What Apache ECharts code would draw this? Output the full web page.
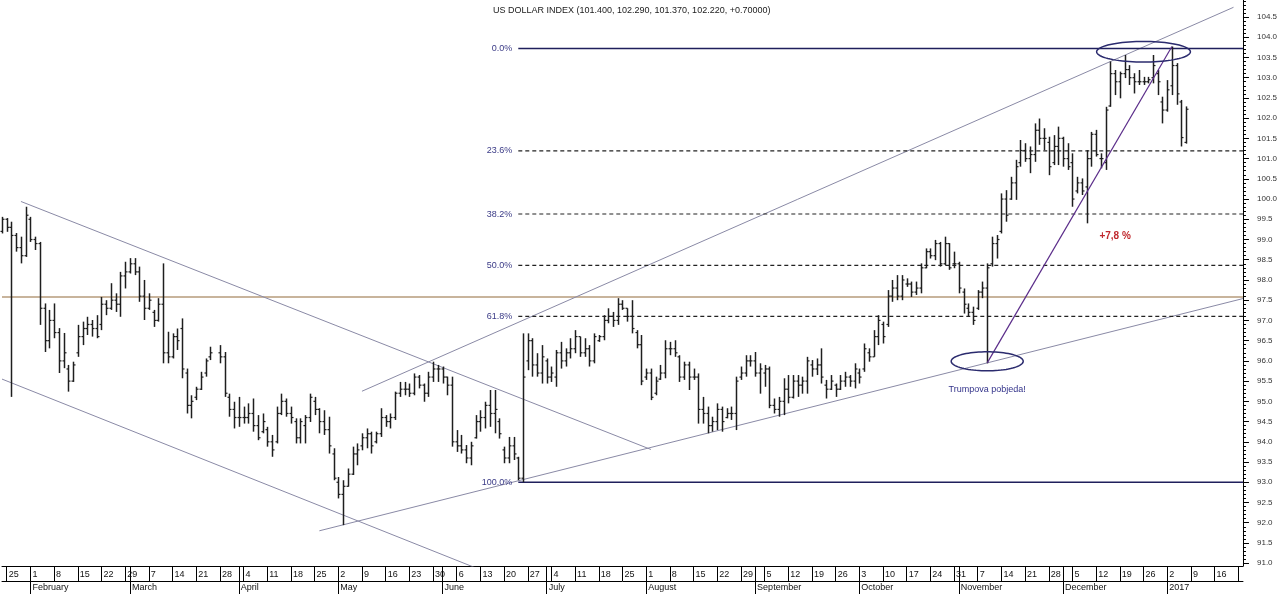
<!DOCTYPE html>
<html>
<head>
<meta charset="utf-8">
<title>US Dollar Index</title>
<script src="https://cdn.jsdelivr.net/npm/echarts@6/dist/echarts.min.js"></script>
<style>
	html, body { margin: 0; padding: 0; background: #fff; }
	#chart { width: 1280px; height: 594px; }
</style>
</head>
<body>
<div id="chart"></div>
<script>
/**
 * Dnevni barovi, jedan red po radnom danu: [open, high, low, close]
 * null = nema trgovanja (Veliki petak)
 */
var jan2016 = [ // od 22.1.
	[99.20, 99.56, 99.15, 99.50], [99.50, 99.53, 99.19, 99.30], [99.30, 99.44, 95.11, 99.10],
	[99.10, 99.16, 98.70, 98.80], [98.80, 99.07, 98.41, 98.60], [98.60, 99.81, 98.57, 99.60]
];
var feb2016 = [
	[99.50, 99.56, 98.94, 99.00], [99.00, 99.07, 98.74, 98.90], [98.90, 98.94, 96.89, 97.30],
	[97.30, 97.42, 96.22, 96.50], [96.50, 97.26, 96.31, 97.00], [97.00, 97.42, 96.56, 96.70],
	[96.70, 96.81, 95.70, 96.00], [96.00, 96.69, 95.82, 96.20], [95.80, 95.90, 95.24, 95.50],
	[95.50, 95.98, 95.48, 95.90], [96.20, 96.89, 96.10, 96.60], [96.60, 96.97, 96.39, 96.80],
	[96.80, 97.09, 96.64, 96.90], [96.90, 97.01, 96.60, 96.80], [96.80, 97.13, 96.56, 96.60],
	[96.90, 97.58, 96.76, 97.40], [97.40, 97.50, 97.13, 97.30], [97.30, 97.92, 97.26, 97.50],
	[97.50, 97.67, 97.21, 97.40], [97.40, 98.20, 97.09, 98.10], [98.10, 98.45, 97.79, 98.20]
];
var mar2016 = [
	[98.20, 98.54, 98.16, 98.40], [98.40, 98.54, 98.12, 98.20], [98.20, 98.33, 97.46, 97.60],
	[97.60, 98.00, 97.01, 97.30], [97.30, 97.67, 97.26, 97.50], [97.20, 97.26, 96.84, 97.00],
	[97.00, 97.55, 96.97, 97.40], [97.40, 98.41, 95.94, 96.20], [96.20, 96.72, 95.94, 96.10],
	[96.10, 96.68, 96.06, 96.60], [96.60, 96.80, 96.27, 96.50], [96.80, 97.05, 95.57, 95.80],
	[95.70, 95.81, 94.70, 94.90], [94.90, 95.15, 94.58, 95.00], [95.10, 95.36, 95.03, 95.30],
	[95.30, 95.73, 95.28, 95.60], [95.70, 96.06, 95.61, 96.00], [96.10, 96.35, 96.02, 96.20],
	null,
	[96.20, 96.39, 95.94, 96.10], [96.10, 96.22, 95.11, 95.20], [95.10, 95.19, 94.62, 94.80],
	[94.80, 94.99, 94.33, 94.60]
];
var apr2016 = [
	[94.60, 95.11, 94.37, 94.60], [94.60, 94.87, 94.45, 94.60], [94.60, 94.95, 94.45, 94.70],
	[94.70, 95.07, 94.25, 94.40], [94.40, 94.66, 94.04, 94.10], [94.25, 94.70, 94.21, 94.50],
	[94.30, 94.37, 93.88, 94.00], [94.00, 94.17, 93.63, 93.80], [94.00, 94.87, 93.96, 94.70],
	[94.70, 95.19, 94.66, 95.00], [95.00, 95.07, 94.62, 94.70], [94.70, 94.87, 94.45, 94.60],
	[94.50, 94.58, 93.96, 94.10], [94.10, 94.58, 93.96, 94.50], [94.40, 94.66, 93.96, 94.60],
	[94.60, 95.19, 94.49, 95.10], [95.00, 95.11, 94.66, 94.80], [94.80, 94.83, 94.21, 94.50],
	[94.50, 94.78, 94.17, 94.30], [94.30, 94.62, 93.71, 93.90], [93.70, 93.84, 93.05, 93.10]
];
var may2016 = [
	[93.00, 93.13, 92.60, 92.70], [92.70, 93.05, 91.94, 92.90], [92.90, 93.34, 92.89, 93.20],
	[93.20, 93.88, 93.18, 93.70], [93.70, 93.96, 93.42, 93.80], [93.90, 94.21, 93.79, 94.10],
	[94.10, 94.33, 93.84, 94.20], [94.20, 94.25, 93.71, 93.90], [94.00, 94.25, 93.96, 94.20],
	[94.20, 94.83, 94.12, 94.60], [94.60, 94.66, 94.37, 94.50], [94.50, 94.70, 94.33, 94.60],
	[94.60, 95.24, 94.54, 95.20], [95.20, 95.48, 95.11, 95.30], [95.30, 95.48, 95.15, 95.30],
	[95.30, 95.44, 95.11, 95.20], [95.20, 95.69, 95.15, 95.60], [95.60, 95.65, 95.32, 95.40],
	[95.40, 95.44, 94.99, 95.20], [95.20, 95.73, 95.11, 95.60], [95.60, 95.98, 95.48, 95.80],
	[95.80, 95.90, 95.48, 95.80]
];
var jun2016 = [
	[95.80, 95.86, 95.44, 95.60], [95.60, 95.61, 95.15, 95.40], [95.40, 95.61, 93.88, 94.00],
	[94.00, 94.29, 93.75, 93.90], [93.90, 94.17, 93.71, 93.80], [93.80, 93.92, 93.47, 93.60],
	[93.60, 94.00, 93.42, 93.90], [94.10, 94.66, 94.08, 94.50], [94.50, 94.78, 94.25, 94.60],
	[94.60, 94.99, 94.33, 94.90], [94.90, 95.28, 94.37, 94.70], [94.70, 95.28, 94.21, 94.80],
	[94.50, 94.58, 94.08, 94.20], [93.80, 93.88, 93.47, 93.60], [93.60, 94.12, 93.47, 93.90],
	[93.90, 94.12, 93.55, 93.70], [93.60, 93.63, 93.05, 93.10], [93.10, 96.68, 93.00, 95.60],
	[96.00, 96.68, 95.77, 96.50], [96.50, 96.56, 95.61, 95.90], [95.90, 96.19, 95.61, 95.70],
	[95.70, 96.39, 95.44, 96.10]
];
var jul2016 = [
	[96.00, 96.06, 95.44, 95.60], [95.60, 95.86, 95.48, 95.70], [95.60, 96.27, 95.36, 96.20],
	[96.20, 96.47, 95.81, 96.00], [96.00, 96.31, 95.86, 96.20], [96.20, 96.56, 96.06, 96.30],
	[96.30, 96.76, 96.19, 96.60], [96.60, 96.60, 96.10, 96.20], [96.20, 96.56, 96.10, 96.30],
	[96.30, 96.39, 95.86, 96.00], [96.00, 96.68, 95.94, 96.60], [96.50, 96.64, 96.47, 96.60],
	[96.60, 97.13, 96.51, 97.00], [97.00, 97.30, 96.93, 97.10], [97.10, 97.21, 96.84, 97.00],
	[97.00, 97.55, 96.89, 97.40], [97.40, 97.50, 97.26, 97.30], [97.30, 97.30, 96.97, 97.10],
	[97.10, 97.50, 96.68, 96.80], [96.70, 96.76, 96.31, 96.40], [96.40, 96.64, 95.40, 95.50]
];
var aug2016 = [
	[95.60, 95.81, 95.53, 95.70], [95.70, 95.81, 95.03, 95.10], [95.20, 95.61, 95.15, 95.50],
	[95.55, 95.90, 95.53, 95.70], [95.70, 96.51, 95.57, 96.30], [96.30, 96.47, 96.14, 96.30],
	[96.30, 96.51, 96.10, 96.20], [96.10, 96.14, 95.48, 95.60], [95.60, 95.98, 95.53, 95.90],
	[95.90, 95.98, 95.28, 95.60], [95.60, 95.81, 95.53, 95.60], [95.60, 95.69, 94.45, 94.80],
	[94.80, 95.11, 94.45, 94.70], [94.70, 94.87, 94.21, 94.40], [94.40, 94.62, 94.25, 94.50],
	[94.50, 94.95, 94.29, 94.80], [94.80, 94.87, 94.25, 94.50], [94.60, 94.83, 94.58, 94.70],
	[94.70, 94.87, 94.54, 94.70], [94.70, 95.61, 94.29, 95.50], [95.60, 95.86, 95.53, 95.70],
	[95.70, 96.14, 95.61, 96.00], [96.00, 96.14, 95.86, 96.00]
];
var sep2016 = [
	[96.00, 96.22, 95.61, 95.70], [95.70, 95.94, 95.19, 95.80], [95.70, 95.90, 95.36, 95.80],
	[95.80, 95.86, 94.83, 94.90], [94.90, 95.07, 94.70, 94.80], [94.80, 95.11, 94.62, 95.00],
	[95.00, 95.57, 94.66, 95.30], [95.30, 95.65, 94.95, 95.10], [95.10, 95.65, 95.07, 95.50],
	[95.50, 95.65, 95.11, 95.40], [95.40, 95.61, 95.19, 95.50], [95.50, 96.10, 95.19, 96.00],
	[95.90, 96.02, 95.61, 95.80], [95.80, 96.06, 95.65, 95.90], [95.90, 96.31, 95.44, 95.60],
	[95.40, 95.53, 95.07, 95.30], [95.30, 95.65, 95.28, 95.50], [95.40, 95.44, 95.11, 95.30],
	[95.30, 95.65, 95.28, 95.50], [95.50, 95.73, 95.36, 95.60], [95.60, 95.65, 95.36, 95.50],
	[95.50, 95.94, 95.32, 95.80]
];
var oct2016 = [
	[95.70, 95.81, 95.44, 95.60], [95.80, 96.43, 95.73, 96.30], [96.20, 96.31, 95.98, 96.10],
	[96.10, 96.76, 96.10, 96.60], [96.60, 97.13, 96.39, 97.00], [96.90, 96.97, 96.43, 96.60],
	[96.90, 97.75, 96.84, 97.60], [97.60, 98.00, 97.46, 97.80], [97.80, 98.12, 97.50, 97.60],
	[97.60, 98.12, 97.50, 98.00], [97.90, 98.04, 97.83, 97.90], [97.90, 97.96, 97.58, 97.70],
	[97.70, 97.96, 97.63, 97.80], [97.80, 98.41, 97.67, 98.30], [98.30, 98.78, 98.29, 98.70],
	[98.70, 98.78, 98.53, 98.60], [98.60, 98.99, 98.49, 98.90], [98.90, 98.94, 98.33, 98.40],
	[98.40, 99.07, 98.37, 98.90], [98.90, 98.91, 98.25, 98.30], [98.40, 98.70, 98.29, 98.40]
];
var nov2016 = [
	[98.40, 98.45, 97.67, 97.80], [97.70, 97.79, 97.17, 97.40], [97.30, 97.42, 97.09, 97.20],
	[97.20, 97.34, 96.89, 97.00], [97.30, 97.75, 97.26, 97.70], [97.70, 97.96, 97.55, 97.80],
	[97.80, 98.41, 95.94, 98.30], [98.40, 99.07, 98.33, 98.90], [98.90, 99.11, 98.53, 99.00],
	[99.20, 100.14, 99.15, 100.00], [100.00, 100.22, 99.44, 99.60], [100.00, 100.55, 99.98, 100.40],
	[100.40, 100.97, 99.98, 100.80], [100.90, 101.46, 100.80, 101.20], [101.20, 101.38, 100.92, 101.00],
	[101.00, 101.30, 100.64, 101.10], [101.10, 101.87, 100.92, 101.70], [101.70, 101.99, 101.34, 101.50],
	[101.50, 101.75, 101.21, 101.50], [101.40, 101.54, 100.59, 100.80], [100.90, 101.58, 100.84, 101.30],
	[101.30, 101.79, 100.84, 101.50]
];
var dec2016 = [
	[101.50, 101.54, 100.80, 101.00], [101.00, 101.38, 100.72, 100.80], [100.90, 101.13, 99.81, 100.00],
	[100.20, 100.55, 100.14, 100.40], [100.40, 100.51, 100.10, 100.20], [100.30, 101.21, 99.40, 101.00],
	[101.00, 101.66, 100.80, 101.60], [101.60, 101.71, 101.05, 101.10], [101.00, 101.13, 100.76, 101.00],
	[100.90, 102.28, 100.72, 102.20], [102.30, 103.40, 102.28, 103.10], [103.10, 103.19, 102.57, 102.90],
	[102.90, 103.15, 102.49, 103.10], [103.10, 103.56, 102.99, 103.20], [103.20, 103.31, 102.82, 103.00],
	[103.00, 103.11, 102.61, 102.90], [102.90, 103.19, 102.82, 102.90], [102.90, 103.02, 102.82, 102.90],
	[102.90, 103.02, 102.86, 102.95], [103.00, 103.56, 102.86, 103.30], [103.10, 103.19, 102.57, 102.90],
	[102.40, 102.53, 101.87, 102.20]
];
var jan2017 = [ // do 6.1.
	[102.20, 102.94, 102.16, 102.70], [102.80, 103.77, 102.57, 103.30], [103.30, 103.36, 102.33, 102.60],
	[102.40, 102.45, 101.30, 101.52], [101.40, 102.29, 101.37, 102.22]
];

// os
var firstDay = '2016-01-22';
var lastAxisDay = '2017-01-24';
var monthNames = ['January', 'February', 'March', 'April', 'May', 'June', 'July',
	'August', 'September', 'October', 'November', 'December'];
var yLabels = [91.0, 91.5, 92.0, 92.5, 93.0, 93.5, 94.0, 94.5, 95.0, 95.5, 96.0, 96.5, 97.0, 97.5,
	98.0, 98.5, 99.0, 99.5, 100.0, 100.5, 101.0, 101.5, 102.0, 102.5, 103.0, 103.5, 104.0, 104.5];
var yMin = 90.93, yMax = 104.92;

// Fibonacci
var fibNames = ['0.0%', '23.6%', '38.2%', '50.0%', '61.8%', '100.0%'];
var fibValues = [103.72, 101.19, 99.63, 98.36, 97.10, 93.00];
var fibStart = '2016-06-23';

// horizontalna linija
var levelLine = 97.58;

// trend linije [[datum, cijena], [datum, cijena]]
var channelLines = [
	[['2016-01-28', 99.94], ['2016-08-02', 93.81]],
	[['2016-01-22', 95.55], ['2016-06-17', 90.65]],
	[['2016-04-26', 91.80], ['2017-01-24', 97.54]],
	[['2016-05-09', 95.25], ['2017-01-20', 104.74]]
];
var rallyLine = [['2016-11-09', 95.95], ['2017-01-03', 103.77]];

// elipse: [datum, cijena, pola sirine u barovima, pola visine u cijeni]
var ellipses = [
	['2016-11-09', 95.99, 7.6, 0.235],
	['2016-12-26', 103.64, 9.9, 0.255]
];

// tekstovi
var notes = [
	['2016-12-16', 99.08, '+7,8 %', '#c0282d', 'bold'],
	['2016-11-09', 95.28, 'Trumpova pobjeda!', '#33338a', 'normal']
];

var fontFamily = '"Liberation Sans", Arial, sans-serif';

/**
 * kalendar radnih dana
 */
var days = [];
var t = Date.UTC(2016, 0, 22);
var tEnd = Date.UTC(2017, 0, 24);
while (t <= tEnd) {
	var wd = new Date(t).getUTCDay();
	if (wd > 0 && wd < 6) {
		days.push(new Date(t).toISOString().slice(0, 10));
	}
	t += 86400000;
}
function dayIndex(s) {
	return days.indexOf(s);
}

var allRows = [].concat(jan2016, feb2016, mar2016, apr2016, may2016, jun2016, jul2016,
	aug2016, sep2016, oct2016, nov2016, dec2016, jan2017);
var barData = [];
for (var i = 0; i < allRows.length; i++) {
	if (allRows[i]) {
		barData.push([i, allRows[i][0], allRows[i][1], allRows[i][2], allRows[i][3]]);
	}
}
var lastBar = allRows[allRows.length - 1];
var prevClose = allRows[allRows.length - 2][3];
var titleText = 'US DOLLAR INDEX (' + lastBar[0].toFixed(3) + ', ' + lastBar[1].toFixed(3) + ', ' +
	lastBar[2].toFixed(3) + ', ' + lastBar[3].toFixed(3) + ', ' +
	(lastBar[3] - prevClose >= 0 ? '+' : '') + (lastBar[3] - prevClose).toFixed(5) + ')';

// kvacice osi
var minorTicks = [];
for (var m = 909; m <= 1049; m++) {
	if (m % 5 !== 0) minorTicks.push(m / 10);
}

function isMonday(index, value) {
	return new Date(value + 'T00:00:00Z').getUTCDay() === 1;
}
function isMondayLabel(index, value) {
	return isMonday(index, value) && index < days.length - 2;
}
function isMonthStart(index, value) {
	return index > 0 && value.slice(0, 7) !== days[index - 1].slice(0, 7);
}

/**
 * OHLC bar
 */
function renderBar(params, api) {
	var idx = api.value(0);
	var o = api.coord([idx, api.value(1)]);
	var h = api.coord([idx, api.value(2)]);
	var l = api.coord([idx, api.value(3)]);
	var c = api.coord([idx, api.value(4)]);
	var x = Math.round(h[0]) + 0.5;
	var col = '#1e1e1e';
	return {
		type: 'group',
		children: [
			{type: 'line', shape: {x1: x, y1: h[1], x2: x, y2: l[1]}, style: {stroke: col, lineWidth: 1.5}},
			{type: 'line', shape: {x1: x - 2, y1: o[1], x2: x, y2: o[1]}, style: {stroke: col, lineWidth: 1.2}},
			{type: 'line', shape: {x1: x, y1: c[1], x2: x + 2, y2: c[1]}, style: {stroke: col, lineWidth: 1.2}}
		]
	};
}

function renderFib(params, api) {
	var k = params.dataIndex;
	var v = api.value(1);
	var a = api.coord([api.value(0), v]);
	var b = api.coord([days.length - 1, v]);
	var solid = (k === 0 || k === fibValues.length - 1);
	return {
		type: 'group',
		children: [
			{
				type: 'line',
				shape: {x1: a[0], y1: a[1], x2: b[0], y2: b[1]},
				style: solid ? {stroke: '#1f1f5c', lineWidth: 1.5} : {stroke: '#222', lineWidth: 1.2, lineDash: [4, 3]}
			},
			{
				type: 'text',
				style: {
					x: a[0] - 6, y: a[1], text: fibNames[k], fill: '#3a3a86',
					font: '9px ' + fontFamily, textAlign: 'right', textVerticalAlign: 'middle'
				}
			}
		]
	};
}

function renderEllipse(params, api) {
	var c = api.coord([api.value(0), api.value(1)]);
	var step = api.coord([api.value(0) + 1, api.value(1)])[0] - c[0];
	var rx = step * api.value(2);
	var ry = c[1] - api.coord([api.value(0), api.value(1) + api.value(3)])[1];
	var pts = [];
	for (var k = 0; k < 80; k++) {
		var a = k / 80 * Math.PI * 2;
		pts.push([c[0] + rx * Math.cos(a), c[1] + ry * Math.sin(a)]);
	}
	return {
		type: 'polygon',
		shape: {points: pts},
		style: {fill: 'none', stroke: '#2b2b6e', lineWidth: 1.5}
	};
}

function renderNote(params, api) {
	var p = api.coord([api.value(0), api.value(1)]);
	var n = notes[params.dataIndex];
	return {
		type: 'text',
		style: {
			x: p[0], y: p[1], text: n[2], fill: n[3],
			font: n[4] + ' ' + (n[4] === 'bold' ? '10px ' : '9px ') + fontFamily,
			textAlign: 'center', textVerticalAlign: 'middle'
		}
	};
}

function lineSeries(points, color, width) {
	return {
		type: 'line',
		data: [[dayIndex(points[0][0]), points[0][1]], [dayIndex(points[1][0]), points[1][1]]],
		symbol: 'none',
		silent: true,
		clip: true,
		lineStyle: {color: color, width: width},
		z: 3
	};
}

var series = [];
// horizontalna linija
series.push(lineSeries([[firstDay, levelLine], [lastAxisDay, levelLine]], '#c8b49c', 2));
// kanali
for (var s = 0; s < channelLines.length; s++) {
	series.push(lineSeries(channelLines[s], '#8a8aa6', 1));
}
// fibonacci
series.push({
	type: 'custom',
	renderItem: renderFib,
	data: fibValues.map(function (v) { return [dayIndex(fibStart), v]; }),
	encode: {x: 0, y: 1},
	silent: true,
	z: 4
});
// barovi
series.push({
	type: 'custom',
	renderItem: renderBar,
	data: barData,
	encode: {x: 0, y: [1, 2, 3, 4]},
	silent: true,
	z: 5
});
// linija rasta
series.push(lineSeries(rallyLine, '#5b2d8a', 1.2));
series[series.length - 1].z = 6;
// elipse
series.push({
	type: 'custom',
	renderItem: renderEllipse,
	data: ellipses.map(function (e) { return [dayIndex(e[0]), e[1], e[2], e[3]]; }),
	encode: {x: 0, y: 1},
	silent: true,
	z: 7
});
// tekst
series.push({
	type: 'custom',
	renderItem: renderNote,
	data: notes.map(function (n) { return [dayIndex(n[0]), n[1]]; }),
	encode: {x: 0, y: 1},
	silent: true,
	z: 8
});

var chart = echarts.init(document.getElementById('chart'));
chart.setOption({
	animation: false,
	backgroundColor: '#fff',
	title: {
		text: titleText,
		left: 488,
		top: 1,
		textStyle: {fontSize: 9, fontWeight: 'normal', color: '#1a1a1a', fontFamily: fontFamily}
	},
	grid: {left: 2, right: 34, top: 0, bottom: 28, containLabel: false},
	xAxis: [
		{// tjedni
			type: 'category',
			data: days,
			boundaryGap: false,
			position: 'bottom',
			axisLine: {show: true, lineStyle: {color: '#000', width: 1}},
			axisTick: {show: true, interval: isMonday, length: 15, lineStyle: {color: '#000'}},
			axisLabel: {
				interval: isMondayLabel,
				formatter: function (v) { return String(+v.slice(8)); },
				align: 'left', padding: [0, 0, 0, 2], margin: 4,
				fontSize: 9, color: '#111', fontFamily: fontFamily
			},
			splitLine: {show: false}
		},
		{// mjeseci
			type: 'category',
			data: days,
			boundaryGap: false,
			position: 'bottom',
			axisLine: {show: false},
			axisTick: {show: true, interval: isMonthStart, length: 28, lineStyle: {color: '#000'}},
			axisLabel: {
				interval: isMonthStart,
				formatter: function (v) {
					var mo = +v.slice(5, 7) - 1;
					return v.slice(0, 4) === '2017' && mo === 0 ? '2017' : monthNames[mo];
				},
				align: 'left', padding: [0, 0, 0, 2], margin: 17,
				fontSize: 9, color: '#111', fontFamily: fontFamily
			},
			splitLine: {show: false}
		},
		{// donji rub tjedana
			type: 'category',
			data: days,
			boundaryGap: false,
			position: 'bottom',
			offset: 15,
			axisLine: {show: true, lineStyle: {color: '#000', width: 1}},
			axisTick: {show: false},
			axisLabel: {show: false},
			splitLine: {show: false}
		}
	],
	yAxis: [
		{
			type: 'value',
			position: 'right',
			min: yMin,
			max: yMax,
			axisLine: {show: true, lineStyle: {color: '#000', width: 1}},
			axisTick: {show: true, length: 6, customValues: yLabels, lineStyle: {color: '#000'}},
			axisLabel: {
				customValues: yLabels,
				formatter: function (v) { return v.toFixed(1); },
				margin: 14, fontSize: 8, color: '#333', fontFamily: fontFamily
			},
			splitLine: {show: false}
		},
		{
			type: 'value',
			position: 'right',
			min: yMin,
			max: yMax,
			axisLine: {show: false},
			axisTick: {show: true, length: 3, customValues: minorTicks, lineStyle: {color: '#000'}},
			axisLabel: {show: false},
			splitLine: {show: false}
		}
	],
	series: series
});
</script>
</body>
</html>
